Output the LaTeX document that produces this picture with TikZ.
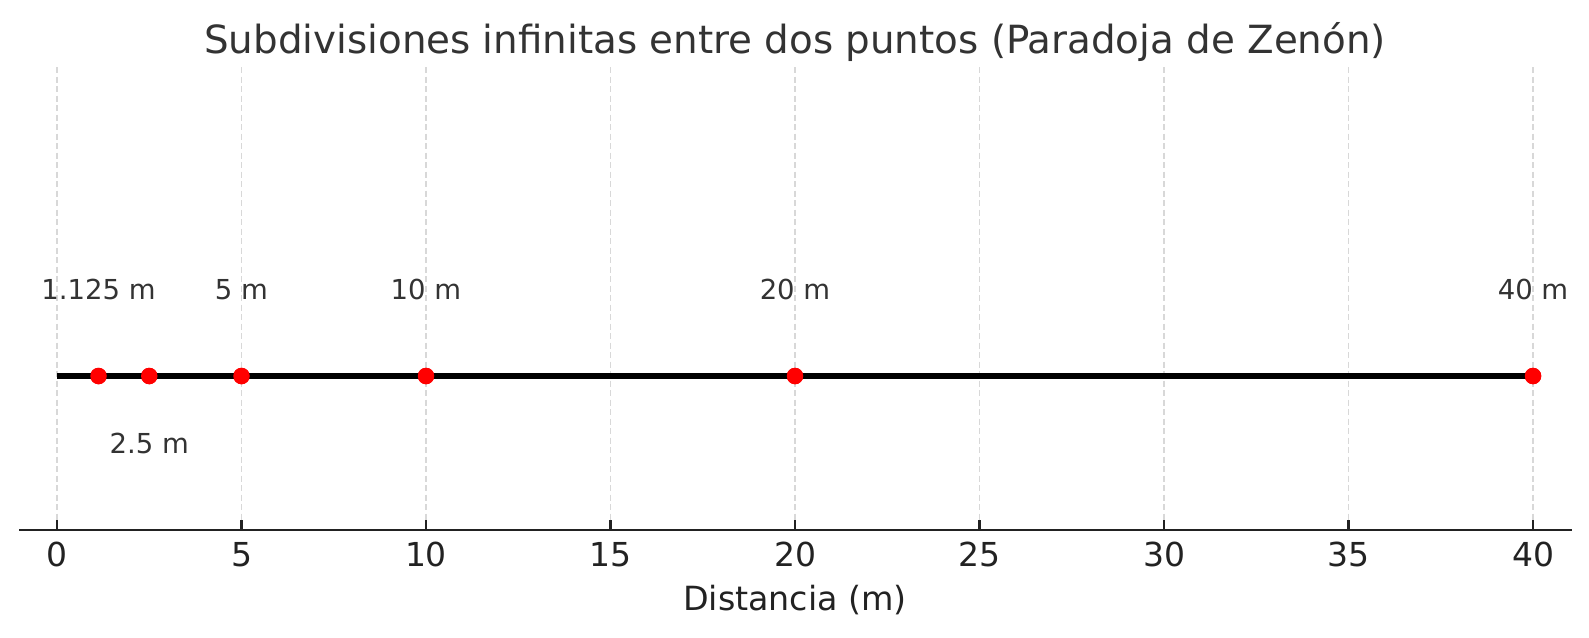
\documentclass[tikz,border=0pt]{standalone}
\usepackage{fontspec}
\setmainfont{DejaVu Sans}
\definecolor{txtdark}{HTML}{222222}
\definecolor{txtmid}{HTML}{333333}
\definecolor{gridgray}{HTML}{D8D8D8}
\definecolor{dotred}{HTML}{FF0000}
\begin{document}
\begin{tikzpicture}[x=1pt,y=-1pt,
  gridline/.style={draw=gridgray,line width=1.5pt,dash pattern=on 6pt off 3.5pt},
  axisline/.style={draw=txtdark,line width=2.4pt},
  tickmark/.style={draw=txtdark,line width=2.2pt},
  mainline/.style={draw=black,line width=5.5pt},
  reddot/.style={circle,fill=dotred,inner sep=0pt,minimum size=16.5pt},
  ptlabel/.style={anchor=base,text=txtmid,font=\fontsize{27.5}{30}\selectfont,inner sep=0pt},
  ticklabel/.style={anchor=base,text=txtdark,font=\fontsize{33}{36}\selectfont,inner sep=0pt},
  axislabel/.style={anchor=base,text=txtdark,font=\fontsize{33.3}{37}\selectfont,inner sep=0pt},
  titlelabel/.style={anchor=base,text=txtmid,font=\fontsize{38.8}{42}\selectfont,inner sep=0pt}]
\useasboundingbox (0,0) rectangle (1589,637);
\fill[white] (0,0) rectangle (1589,637);
% grid and ticks
\foreach \v in {0,5,...,40}{
  \pgfmathsetmacro{\px}{57+\v*36.9}
  \draw[gridline] (\px,67) -- (\px,530);
  \draw[tickmark] (\px,520) -- (\px,530);
  \node[ticklabel] (t\v) at (\px,566) {\v};
}
% axis
\coordinate (axL) at (19,530);
\coordinate (axR) at (1572,530);
\draw[axisline] (axL) -- (axR);
% main segment
\coordinate (p0) at (57,376);
\node[reddot] (d1) at ({57+1.125*36.9},376) {};
\node[reddot] (d2) at ({57+2.5*36.9},376) {};
\node[reddot] (d3) at ({57+5*36.9},376) {};
\node[reddot] (d4) at ({57+10*36.9},376) {};
\node[reddot] (d5) at ({57+20*36.9},376) {};
\node[reddot] (d6) at ({57+40*36.9},376) {};
\draw[mainline] (p0) -- (d6.center);
\foreach \n in {d1,d2,d3,d4,d5,d6}{\node[reddot] at (\n) {};}
% point labels
\node[ptlabel] (l1) at ({57+1.125*36.9},299) {1.125 m};
\node[ptlabel] (l2) at ({57+2.5*36.9},453) {2.5 m};
\node[ptlabel] (l3) at ({57+5*36.9},299) {5 m};
\node[ptlabel] (l4) at ({57+10*36.9},299) {10 m};
\node[ptlabel] (l5) at ({57+20*36.9},299) {20 m};
\node[ptlabel] (l6) at ({57+40*36.9},299) {40 m};
% axis label and title
\node[axislabel] (xl) at (795,610) {Distancia (m)};
\node[titlelabel] (title) at (795,53) {Subdivisiones infinitas entre dos puntos (Paradoja de Zenón)};
\end{tikzpicture}
\end{document}
